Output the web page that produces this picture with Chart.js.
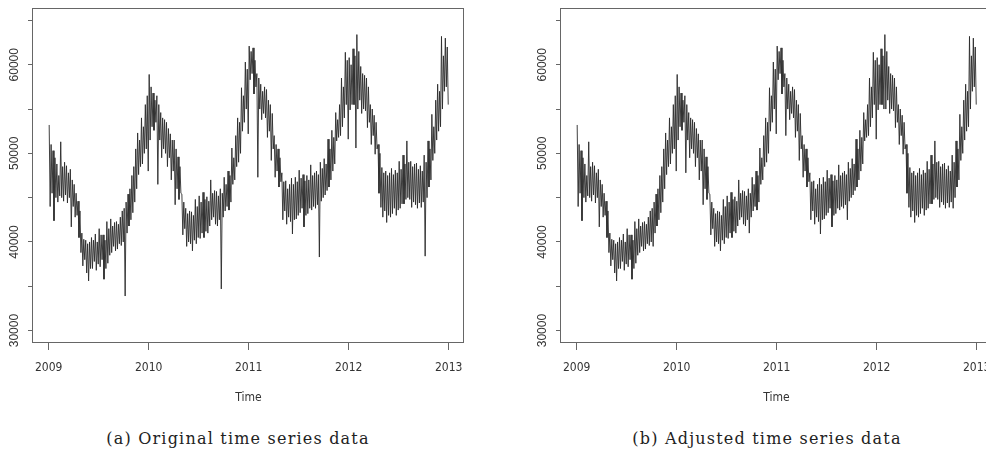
<!DOCTYPE html>
<html><head><meta charset="utf-8">
<script src="https://cdn.jsdelivr.net/npm/chart.js@4.4.1/dist/chart.umd.min.js"></script>
<style>
html,body{margin:0;padding:0;background:#fff;width:986px;height:452px;overflow:hidden;position:relative}
canvas{position:absolute;top:0}
#ca{left:0}
#cb{left:528px}
.cap{position:absolute;top:430px;height:18px;line-height:18px;font-family:'DejaVu Serif',serif;font-size:16px;letter-spacing:1.2px;color:#222;white-space:nowrap;transform:translateX(-50%)}
</style></head><body>
<canvas id="ca" width="470" height="410"></canvas>
<canvas id="cb" width="470" height="410"></canvas>
<div class="cap" style="left:238px">(a) Original time series data</div>
<div class="cap" style="left:767px">(b) Adjusted time series data</div>
<script>
// Weekly upper (weekday) and lower (weekend) values, 52 weeks per year, 2009..2012
const startYear = 2009;
const weeksPerYear = 52;

const originalHigh = [
  // 2009
  53200, 51000, 50300, 49500, 48800, 47500, 51300, 48500, 49000, 48600, 47800, 48200, 47000,
  46500, 45500, 44600, 43500, 41000, 40300, 40200, 39800, 40000, 40500, 40200, 40900, 40000,
  41500, 40800, 40800, 40200, 42300, 41500, 42600, 41800, 42200, 42300, 42000, 42800, 43500,
  43800, 44500, 45400, 46000, 47500, 48500, 50500, 52300, 51500, 54000, 53000, 55500, 56500,
  // 2010
  58900, 57500, 56800, 56000, 56500, 55500, 54600, 54000, 53800, 53500, 52800, 52200, 51500,
  51500, 50500, 49600, 48500, 45400, 44500, 43800, 43200, 43500, 43400, 43000, 44800, 44000,
  45200, 44500, 45600, 44800, 45100, 44600, 47000, 45500, 45800, 45700, 45200, 46000, 45500,
  47300, 46500, 48000, 47500, 50600, 49500, 52000, 54000, 53500, 57400, 56500, 60300, 59500,
  // 2011
  62100, 61500, 61900, 60500, 59000, 58500, 57800, 57000, 57500, 57200, 56000, 55500, 54500,
  52000, 51000, 50500, 49500, 47800, 46800, 46900, 46000, 46500, 47200, 46500, 47300, 46800,
  48100, 47200, 47600, 46900, 47500, 47000, 48700, 47500, 47800, 48000, 47600, 49000, 48300,
  49400, 48800, 51600, 50500, 52600, 51800, 54600, 53800, 55500, 58500, 57500, 61400, 60500,
  // 2012
  60800, 60000, 61800, 61000, 63400, 61500, 59800, 59000, 58800, 58500, 57500, 55500, 55000,
  54300, 53500, 51000, 50000, 48400, 47800, 48000, 47500, 47800, 48300, 47600, 48100, 47800,
  49100, 48200, 49800, 48800, 51400, 49000, 49100, 48500, 48800, 48900, 48200, 48600, 48000,
  49800, 49000, 51400, 50500, 54400, 53000, 56000, 57800, 57000, 63200, 61000, 63000, 62000
];
const originalLow = [
  // 2009
  44000, 45500, 42400, 45000, 44500, 45200, 45000, 44600, 45300, 44400, 45000, 41700, 44000,
  42800, 43000, 40500, 38800, 37300, 38000, 36500, 35600, 37000, 37000, 37800, 36800, 37500,
  37200, 38000, 35800, 37000, 37600, 38500, 38800, 39500, 39000, 39200, 39800, 39600, 40000,
  33900, 41000, 41800, 42500, 43300, 44500, 46000, 47600, 48500, 48800, 50000, 50500, 48000,
  // 2010
  51500, 53000, 52600, 53500, 46500, 51500, 49500, 50500, 50000, 48500, 49500, 47000, 48000,
  44200, 46000, 44800, 45500, 40800, 41500, 39500, 40000, 39800, 39000, 40200, 39800, 40500,
  40400, 41000, 40500, 41200, 41000, 41800, 42500, 42800, 42000, 41800, 42500, 34700, 42800,
  43500, 44000, 43600, 44500, 46500, 47000, 48500, 49000, 50000, 52500, 53500, 55000, 52200,
  // 2011
  58300, 59000, 56700, 57500, 47300, 55000, 53800, 54500, 54000, 51800, 52500, 49200, 50500,
  47300, 48000, 46200, 46800, 42500, 43500, 42000, 42800, 42300, 40900, 42500, 42600, 43000,
  43300, 43800, 41700, 43000, 43200, 43800, 43600, 44000, 43800, 44200, 38300, 44600, 45000,
  45300, 45800, 46200, 47000, 48000, 48800, 51400, 51800, 52000, 53000, 54000, 55500, 51600,
  // 2012
  54900, 55500, 55500, 50600, 55000, 56000, 54500, 55000, 54800, 52900, 53500, 51000, 52000,
  49900, 50500, 45500, 43900, 42800, 43500, 42200, 43000, 42800, 43200, 43800, 43000, 43600,
  43800, 44300, 44300, 44800, 45000, 44800, 43900, 44500, 44200, 43800, 44400, 43900, 44500,
  38400, 45000, 46200, 47000, 49200, 50000, 51500, 52500, 53000, 55000, 57000, 57500, 55500
];
const adjustedHigh = [
  // 2009
  53200, 51000, 50300, 49500, 48800, 47500, 51300, 48500, 49000, 48600, 47800, 48200, 47000,
  46500, 45500, 44600, 43500, 41000, 40300, 40200, 39800, 40000, 40500, 40200, 40900, 40000,
  41500, 40800, 40800, 40200, 42300, 41500, 42600, 41800, 42200, 42300, 42000, 42800, 43500,
  43800, 44500, 45400, 46000, 47500, 48500, 50500, 52300, 51500, 54000, 53000, 55500, 56500,
  // 2010
  58900, 57500, 56800, 56000, 56500, 55500, 54600, 54000, 53800, 53500, 52800, 52200, 51500,
  51500, 50500, 49600, 48500, 45400, 44500, 43800, 43200, 43500, 43400, 43000, 44800, 44000,
  45200, 44500, 45600, 44800, 45100, 44600, 47000, 45500, 45800, 45700, 45200, 46000, 45500,
  47300, 46500, 48000, 47500, 50600, 49500, 52000, 54000, 53500, 57400, 56500, 60300, 59500,
  // 2011
  62100, 61500, 61900, 60500, 59000, 58500, 57800, 57000, 57500, 57200, 56000, 55500, 54500,
  52000, 51000, 50500, 49500, 47800, 46800, 46900, 46000, 46500, 47200, 46500, 47300, 46800,
  48100, 47200, 47600, 46900, 47500, 47000, 48700, 47500, 47800, 48000, 47600, 49000, 48300,
  49400, 48800, 51600, 50500, 52600, 51800, 54600, 53800, 55500, 58500, 57500, 61400, 60500,
  // 2012
  60800, 60000, 61800, 61000, 63400, 61500, 59800, 59000, 58800, 58500, 57500, 55500, 55000,
  54300, 53500, 51000, 50000, 48400, 47800, 48000, 47500, 47800, 48300, 47600, 48100, 47800,
  49100, 48200, 49800, 48800, 51400, 49000, 49100, 48500, 48800, 48900, 48200, 48600, 48000,
  49800, 49000, 51400, 50500, 54400, 53000, 56000, 57800, 57000, 63200, 61000, 63000, 62000
];
const adjustedLow = [
  // 2009
  44000, 45500, 42400, 45000, 44500, 45200, 45000, 44600, 45300, 44400, 45000, 41700, 44000,
  42800, 43000, 40500, 38800, 37300, 38000, 36500, 35600, 37000, 37000, 37800, 36800, 37500,
  37200, 38000, 35800, 37000, 37600, 38500, 38800, 39500, 39000, 39200, 39800, 39600, 40000,
  39500, 41000, 41800, 42500, 43300, 44500, 46000, 47600, 48500, 48800, 50000, 50500, 48000,
  // 2010
  51500, 53000, 52600, 53500, 47800, 51500, 49500, 50500, 50000, 48500, 49500, 47000, 48000,
  44200, 46000, 44800, 45500, 40800, 41500, 39500, 40000, 39800, 39000, 40200, 39800, 40500,
  40400, 41000, 40500, 41200, 41000, 41800, 42500, 42800, 42000, 41800, 42500, 41000, 42800,
  43500, 44000, 43600, 44500, 46500, 47000, 48500, 49000, 50000, 52500, 53500, 55000, 52200,
  // 2011
  58300, 59000, 56700, 57500, 52000, 55000, 53800, 54500, 54000, 51800, 52500, 49200, 50500,
  47300, 48000, 46200, 46800, 42500, 43500, 42000, 42800, 42300, 40900, 42500, 42600, 43000,
  43300, 43800, 41700, 43000, 43200, 43800, 43600, 44000, 43800, 44200, 42500, 44600, 45000,
  45300, 45800, 46200, 47000, 48000, 48800, 51400, 51800, 52000, 53000, 54000, 55500, 51600,
  // 2012
  54900, 55500, 55500, 55000, 55000, 56000, 54500, 55000, 54800, 52900, 53500, 51000, 52000,
  49900, 50500, 45500, 43900, 42800, 43500, 42200, 43000, 42800, 43200, 43800, 43000, 43600,
  43800, 44300, 44300, 44800, 45000, 44800, 43900, 44500, 44200, 43800, 44400, 43900, 44500,
  43800, 45000, 46200, 47000, 49200, 50000, 51500, 52500, 53000, 55000, 57000, 57500, 55500
];
const yearTicks = [2009, 2010, 2011, 2012, 2013];
const valueTicks = [30000, 35000, 40000, 45000, 50000, 55000, 60000, 65000];
const labelledValues = [30000, 40000, 50000, 60000];
const xTitle = 'Time';

function buildSeries(high, low) {
  const pts = [];
  for (let i = 0; i < high.length; i++) {
    const t0 = startYear + i / weeksPerYear;
    pts.push({x: t0 + 0.25 / weeksPerYear, y: high[i]});
    pts.push({x: t0 + 0.75 / weeksPerYear, y: low[i]});
  }
  return pts;
}

const boxPlugin = {
  id: 'box',
  afterDraw(chart) {
    const a = chart.chartArea, ctx = chart.ctx;
    ctx.save();
    ctx.strokeStyle = '#666';
    ctx.lineWidth = 1;
    ctx.strokeRect(Math.round(a.left) - 0.5, Math.round(a.top) + 0.5,
                   Math.round(a.right - a.left), Math.round(a.bottom - a.top) - 1);
    ctx.restore();
  }
};

const narrow = "'Liberation Sans Narrow', 'DejaVu Sans Condensed', Arial, sans-serif";

function makeChart(id, high, low) {
  return new Chart(document.getElementById(id), {
    type: 'line',
    data: {datasets: [{
      data: buildSeries(high, low),
      borderColor: '#2a2a2a', borderWidth: 0.9, pointRadius: 0,
      tension: 0, borderJoinStyle: 'bevel', fill: false
    }]},
    options: {
      responsive: false, animation: false, devicePixelRatio: 1,
      layout: {padding: {top: 8, right: 6, left: 0, bottom: 0}},
      plugins: {legend: {display: false}, tooltip: {enabled: false}},
      scales: {
        x: {
          type: 'linear', min: 2008.843, max: 2013.153,
          afterBuildTicks: s => { s.ticks = yearTicks.map(v => ({value: v})); },
          afterFit: s => { s.height = 67; s.paddingLeft = 0; s.paddingRight = 0; },
          border: {display: false},
          grid: {display: true, drawOnChartArea: false, drawTicks: true, tickLength: 7, color: '#666'},
          ticks: {padding: 11, color: '#333', maxRotation: 0, minRotation: 0,
                  font: {family: narrow, size: 12},
                  callback: v => String(v)},
          title: {display: true, text: xTitle, color: '#333',
                  font: {family: narrow, size: 12}, padding: {top: 0, bottom: 4.5}}
        },
        y: {
          type: 'linear', min: 28600, max: 66400,
          afterBuildTicks: s => { s.ticks = valueTicks.map(v => ({value: v})); },
          afterFit: s => { s.width = 33; s.paddingTop = 0; s.paddingBottom = 0; },
          border: {display: false},
          grid: {display: true, drawOnChartArea: false, drawTicks: true, tickLength: 5, color: '#666'},
          ticks: {padding: -3.5, color: '#333', minRotation: 90, maxRotation: 90, crossAlign: 'center',
                  font: {family: "'Liberation Sans', Arial, sans-serif", size: 12},
                  callback: v => labelledValues.includes(v) ? String(v) : ''}
        }
      }
    },
    plugins: [boxPlugin]
  });
}

makeChart('ca', originalHigh, originalLow);
makeChart('cb', adjustedHigh, adjustedLow);
</script>
</body></html>
